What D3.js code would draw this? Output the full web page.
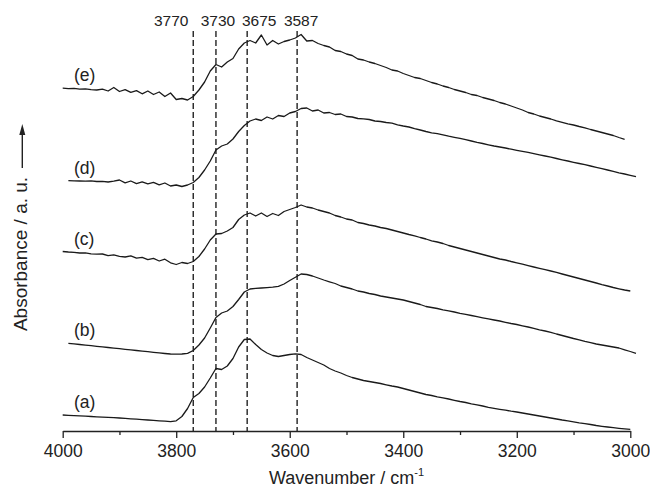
<!DOCTYPE html>
<html>
<head>
<meta charset="utf-8">
<script src="https://cdn.jsdelivr.net/npm/d3@7"></script>
<style>
  body { margin: 0; background: #fff; }
  svg { display: block; }
  text { font-family: "Liberation Sans", Arial, Helvetica, sans-serif; fill: #222; }
</style>
</head>
<body>
<svg id="chart" width="650" height="488"></svg>
<script>
// Spectra sampled every 10 cm-1 from 4000 to 2990 cm-1 (102 points); null = outside the recorded range
const wavenumber = d3.range(4000, 2985, -10);

// Absorbance (arbitrary units, spectra offset vertically)
const spectrumA = [
  25.0,24.7,24.4,24.1,23.8,23.5,23.2,22.9,22.6,22.3,
  22.0,21.6,21.2,20.8,20.4,20.0,19.6,19.2,18.8,18.4,
  19.2,23.5,31.5,42.5,46.5,53.0,62.0,71.5,70.5,74.0,
  81.5,93.0,100.5,101.0,95.5,90.5,87.0,84.5,83.5,84.5,
  85.5,86.2,85.5,82.5,80.0,77.5,75.0,71.5,69.0,67.0,
  64.5,62.5,61.0,59.5,58.5,57.5,56.5,55.2,54.0,53.0,
  51.5,50.0,48.5,47.0,45.5,44.5,43.2,42.2,41.0,39.7,
  38.5,37.5,36.2,35.2,34.0,32.7,31.7,30.7,29.8,28.8,
  28.0,27.0,26.0,25.0,24.0,23.0,22.0,21.0,20.0,19.2,
  18.2,17.2,16.4,15.5,14.5,13.7,13.0,12.3,11.7,11.2,
  10.7,null
];
const spectrumB = [
  null,96.7,96.1,95.5,94.9,94.3,93.7,93.1,92.5,91.9,
  91.3,90.7,90.1,89.5,88.9,88.3,87.7,87.1,86.5,86.0,
  85.8,86.0,86.7,89.5,95.0,102.0,112.0,122.5,127.0,129.0,
  133.5,140.5,148.0,151.0,151.6,152.0,152.4,152.8,153.6,156.0,
  159.5,162.7,166.0,165.5,164.0,162.0,160.0,158.2,156.5,154.0,
  152.5,151.0,149.0,148.0,146.5,145.5,144.0,143.0,142.0,141.0,
  140.0,138.5,137.0,135.5,133.5,132.5,131.5,130.2,129.2,128.0,
  126.7,125.6,124.5,123.4,122.2,121.1,120.0,119.0,117.7,116.5,
  115.5,114.2,113.0,111.7,110.2,109.0,107.7,106.0,104.5,103.0,
  101.5,100.2,98.7,97.4,96.0,95.0,94.0,93.0,92.0,90.2,
  88.5,86.7
];
const spectrumC = [
  188.5,188.0,187.7,187.0,187.2,186.2,185.8,186.0,184.4,185.2,
  183.7,183.0,184.2,181.8,182.6,180.4,181.6,179.0,180.8,177.2,
  175.5,177.5,176.5,178.5,183.5,191.0,200.0,206.0,206.5,209.0,
  212.5,220.5,225.0,227.0,224.0,227.0,223.5,226.5,224.5,228.5,
  230.5,232.5,235.0,233.0,232.0,230.0,228.5,227.0,224.5,223.0,
  221.0,220.0,217.5,216.5,215.0,214.0,212.5,211.5,210.0,208.5,
  207.0,205.5,204.2,202.5,201.0,199.2,198.0,196.5,194.5,193.0,
  191.5,190.0,188.5,187.0,185.5,184.0,182.5,181.0,180.0,178.5,
  177.2,175.8,174.4,173.0,171.7,170.4,169.0,167.6,166.0,164.5,
  163.0,161.5,160.0,158.5,157.0,155.4,154.0,152.5,151.2,150.0,
  149.0,null
];
const spectrumD = [
  null,259.3,259.1,259.0,258.8,259.2,258.5,258.7,258.0,258.8,
  260.0,257.2,259.0,256.4,258.2,256.2,257.7,255.2,257.0,254.0,
  255.0,253.5,255.0,257.5,262.5,270.0,279.0,290.0,294.0,296.0,
  301.0,308.5,314.5,319.0,321.0,319.5,323.0,321.0,324.5,323.5,
  327.0,328.5,331.5,332.0,329.0,330.0,327.0,327.5,325.5,326.0,
  323.5,323.0,321.5,321.2,320.5,319.0,318.5,317.5,316.8,315.2,
  314.0,313.0,311.4,310.0,308.5,307.2,306.4,305.2,303.8,302.7,
  301.7,300.4,299.0,297.6,296.5,295.2,294.0,293.0,292.0,290.8,
  289.7,288.7,287.7,286.4,285.2,284.0,282.8,281.5,280.2,279.0,
  277.7,276.5,275.3,274.0,272.7,271.4,270.0,268.6,267.2,266.0,
  264.7,263.3
];
const spectrumE = [
  351.8,351.4,351.6,350.8,351.2,350.4,350.0,350.8,349.0,352.5,
  348.5,350.4,347.6,349.4,346.2,349.0,345.5,348.0,343.5,347.0,
  340.5,341.5,340.0,343.5,350.0,358.0,369.0,375.5,373.0,378.0,
  381.5,391.0,397.0,399.5,397.0,405.0,395.0,399.5,396.0,398.5,
  400.0,402.0,405.5,399.0,399.5,396.5,394.5,393.0,389.5,388.5,
  386.0,384.5,381.0,380.0,378.0,376.5,374.5,372.5,370.0,369.0,
  366.5,364.5,362.5,361.5,359.5,357.5,356.0,354.0,352.5,350.5,
  349.0,347.5,345.5,344.5,342.5,341.0,339.5,337.5,336.0,334.0,
  332.0,330.0,327.5,326.0,324.0,322.5,321.0,319.2,317.7,316.2,
  315.0,313.5,312.2,310.5,309.0,307.5,306.0,304.5,302.5,300.7,
  null,null
];

const spectra = [spectrumA, spectrumB, spectrumC, spectrumD, spectrumE];
const spectrumLabels = ["(a)", "(b)", "(c)", "(d)", "(e)"];

// Marked OH bands
const bandPositions = [3770, 3730, 3675, 3587];
const bandLabels = ["3770", "3730", "3675", "3587"];

// Axis ticks
const majorTicks = [4000, 3800, 3600, 3400, 3200, 3000];
const minorTicks = [3900, 3700, 3500, 3300, 3100];

const svg = d3.select("#chart");
const plot = { left: 62.7, right: 630.3, bottom: 431 };

const x = d3.scaleLinear().domain([4000, 3000]).range([plot.left, plot.right]);
const y = d3.scaleLinear().domain([0, 440]).range([440, 0]);

// Bottom axis: minor ticks, then major ticks with labels
svg.append("g")
  .attr("transform", `translate(0,${plot.bottom})`)
  .call(d3.axisBottom(x).tickValues(minorTicks).tickSize(4).tickSizeOuter(0).tickFormat(""))
  .call(g => g.select(".domain").remove())
  .call(g => g.selectAll("line").attr("stroke", "#222").attr("stroke-width", 1.3));

const xAxis = svg.append("g")
  .attr("transform", `translate(0,${plot.bottom})`)
  .call(d3.axisBottom(x).tickValues(majorTicks).tickSize(7).tickSizeOuter(0).tickPadding(7)
    .tickFormat(d3.format("d")));
xAxis.select(".domain").attr("stroke", "#222").attr("stroke-width", 1.4);
xAxis.selectAll(".tick line").attr("stroke", "#222").attr("stroke-width", 1.3);
xAxis.selectAll(".tick text")
  .attr("font-family", "Liberation Sans, Arial, sans-serif")
  .attr("font-size", 17.5)
  .attr("fill", "#222");

// Axis titles
const xTitle = svg.append("text")
  .attr("x", (plot.left + plot.right) / 2)
  .attr("y", 484)
  .attr("text-anchor", "middle")
  .attr("font-size", 18);
xTitle.append("tspan").text("Wavenumber / cm");
xTitle.append("tspan").attr("dy", -8).attr("font-size", 11).text("-1");

svg.append("text")
  .attr("transform", "translate(26.5,254) rotate(-90)")
  .attr("text-anchor", "middle")
  .attr("font-size", 19)
  .text("Absorbance / a. u.");

// Upward arrow next to the y title
svg.append("line")
  .attr("x1", 22.3).attr("x2", 22.3)
  .attr("y1", 168).attr("y2", 133)
  .attr("stroke", "#222").attr("stroke-width", 1.4);
svg.append("path")
  .attr("d", "M22.3,124 L25.3,135 L19.3,135 Z")
  .attr("fill", "#222");

// Dashed band markers and their labels
svg.append("g").selectAll("line")
  .data(bandPositions)
  .join("line")
  .attr("x1", d => x(d)).attr("x2", d => x(d))
  .attr("y1", 31).attr("y2", plot.bottom)
  .attr("stroke", "#222")
  .attr("stroke-width", 1.4)
  .attr("stroke-dasharray", "6,3");

// labels are nudged sideways so the closely spaced numbers do not collide
const labelShift = [-22, 2, 12, 4];
svg.append("g").selectAll("text")
  .data(bandLabels)
  .join("text")
  .attr("x", (d, i) => x(bandPositions[i]) + labelShift[i])
  .attr("y", 26)
  .attr("text-anchor", "middle")
  .attr("font-size", 15.5)
  .text(d => d);

// Spectra
const line = d3.line()
  .defined(d => d[1] != null)
  .x(d => x(d[0]))
  .y(d => y(d[1]));

svg.append("g").selectAll("path")
  .data(spectra)
  .join("path")
  .attr("d", s => line(wavenumber.map((w, i) => [w, s[i]])))
  .attr("fill", "none")
  .attr("stroke", "#1a1a1a")
  .attr("stroke-width", 1.3)
  .attr("stroke-linejoin", "round");

// Spectrum labels placed just above the start of each trace
svg.append("g").selectAll("text")
  .data(spectra)
  .join("text")
  .attr("x", 74)
  .attr("y", s => y(s.find(v => v != null)) - 7)
  .attr("font-size", 17.5)
  .text((s, i) => spectrumLabels[i]);
</script>
</body>
</html>
